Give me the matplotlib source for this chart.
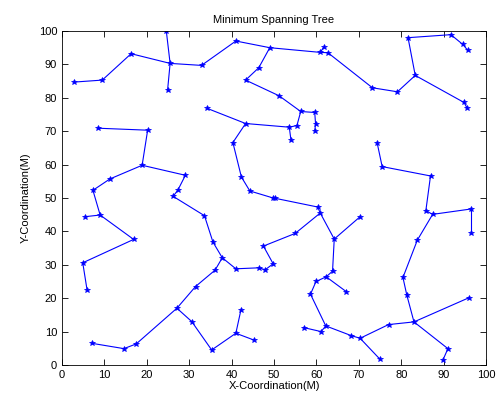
import matplotlib
matplotlib.use('Agg')
import matplotlib.pyplot as plt

plt.rcParams['font.family'] = ['Liberation Sans', 'DejaVu Sans']

# node coordinates
xs = [2.8, 9.5, 16.3, 25.5, 24.6, 24.9, 32.9, 41.0, 49.0, 60.9,
      61.7, 62.7, 73.2, 79.1, 83.3, 81.6, 91.7, 94.5, 95.7, 94.8,
      95.5, 46.4, 43.3, 51.2, 56.3, 59.6, 59.8, 59.6, 55.4, 53.6,
      54.0, 43.3, 34.3, 40.3, 42.3, 44.3, 49.8, 50.3, 60.3, 60.9,
      55.0, 47.5, 49.8, 47.9, 46.5, 41.0, 37.8, 35.6, 33.6, 26.2,
      27.3, 29.1, 18.9, 20.2, 8.4, 11.3, 7.3, 9.0, 5.4, 16.9,
      4.9, 5.9, 36.1, 31.5, 27.1, 17.5, 14.6, 7.0, 30.6, 35.3,
      41.0, 42.2, 45.2, 64.2, 70.3, 63.8, 62.3, 67.0, 59.9, 58.6,
      62.2, 61.1, 57.0, 68.2, 70.3, 75.0, 77.0, 83.0, 95.9, 91.0,
      89.8, 81.3, 80.4, 83.8, 87.4, 96.4, 96.4, 85.8, 86.9, 75.5,
      74.3]
ys = [84.7, 85.3, 93.2, 90.3, 100.0, 82.3, 89.7, 97.0, 95.0, 93.6,
      95.1, 93.5, 83.0, 81.8, 86.7, 98.0, 98.9, 96.0, 94.2, 78.6,
      77.0, 89.0, 85.3, 80.6, 75.9, 75.6, 72.1, 70.2, 71.7, 71.2,
      67.3, 72.3, 76.8, 66.6, 56.3, 52.1, 50.0, 49.9, 47.3, 45.5,
      39.4, 35.6, 30.3, 28.5, 29.1, 28.8, 32.1, 36.8, 44.7, 50.5,
      52.3, 56.8, 59.8, 70.3, 70.9, 55.7, 52.3, 44.9, 44.4, 37.6,
      30.6, 22.6, 28.4, 23.5, 17.0, 6.3, 4.9, 6.5, 13.0, 4.5,
      9.5, 16.5, 7.5, 37.7, 44.4, 28.1, 26.4, 22.0, 25.0, 21.2,
      11.7, 10.0, 11.2, 8.8, 8.0, 1.7, 12.1, 12.9, 20.1, 4.9,
      1.4, 21.0, 26.2, 37.4, 45.1, 46.7, 39.4, 46.2, 56.6, 59.4,
      66.6]

# tree edges (node index pairs)
edges = [(0, 1), (1, 2), (2, 3), (3, 4), (3, 5), (3, 6), (6, 7), (7, 8),
         (8, 9), (9, 10), (9, 11), (11, 12), (12, 13), (13, 14), (14, 15),
         (15, 16), (16, 17), (17, 18), (14, 19), (19, 20), (8, 21), (21, 22),
         (22, 23), (23, 24), (24, 25), (25, 26), (26, 27), (24, 28), (28, 29),
         (29, 30), (29, 31), (31, 32), (31, 33), (33, 34), (34, 35), (35, 36),
         (36, 37), (37, 38), (38, 39), (39, 40), (40, 41), (41, 42), (42, 43),
         (43, 44), (44, 45), (45, 46), (46, 47), (47, 48), (48, 49), (49, 50),
         (50, 51), (51, 52), (52, 53), (53, 54), (52, 55), (55, 56), (56, 57),
         (57, 58), (57, 59), (59, 60), (60, 61), (46, 62), (62, 63), (63, 64),
         (64, 65), (65, 66), (66, 67), (64, 68), (68, 69), (69, 70), (70, 71),
         (70, 72), (39, 73), (73, 74), (73, 75), (75, 76), (76, 77), (76, 78),
         (78, 79), (79, 80), (80, 81), (81, 82), (80, 83), (83, 84), (84, 85),
         (84, 86), (86, 87), (87, 88), (87, 89), (89, 90), (87, 91), (91, 92),
         (92, 93), (93, 94), (94, 95), (95, 96), (94, 97), (97, 98), (98, 99),
         (99, 100)]

fig = plt.figure(figsize=(4.97, 4.01), dpi=100)
ax = fig.add_axes([0.1247, 0.0898, 0.8533, 0.8329])

for i, j in edges:
    ax.plot([xs[i], xs[j]], [ys[i], ys[j]], '-', color='#0000ff', lw=0.8)
ax.plot(xs, ys, '*', color='#0000ff', ms=4, mew=0.5, linestyle='none')

ax.set_xlim(0, 100)
ax.set_ylim(0, 100)
ax.set_xticks(range(0, 101, 10))
ax.set_yticks(range(0, 101, 10))
ax.tick_params(direction='in', top=True, right=True, labelsize=8, length=4, width=0.6)
for s in ax.spines.values():
    s.set_linewidth(0.6)
ax.set_title('Minimum Spanning Tree', fontsize=8, pad=6)
ax.set_xlabel('X-Coordination(M)', fontsize=8, labelpad=1)
ax.set_ylabel('Y-Coordination(M)', fontsize=8, labelpad=6)

fig.savefig('out.png', dpi=100)
